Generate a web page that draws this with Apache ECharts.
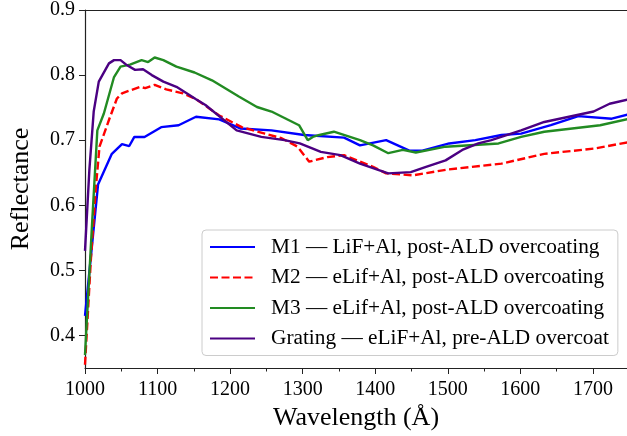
<!DOCTYPE html>
<html>
<head>
<meta charset="utf-8">
<script src="https://cdn.jsdelivr.net/npm/echarts@6/dist/echarts.min.js"></script>
<style>
html,body{margin:0;padding:0;background:#fff;}
#c{width:627px;height:436px;}
</style>
</head>
<body>
<div id="c"></div>
<script>
const xTicks = [1000, 1100, 1200, 1300, 1400, 1500, 1600, 1700];
const xMinorTicks = [1050, 1150, 1250, 1350, 1450, 1550, 1650];
const yTicks = [0.4, 0.5, 0.6, 0.7, 0.8, 0.9];

const seriesNames = [
  'M1 — LiF+Al, post-ALD overcoating',
  'M2 — eLif+Al, post-ALD overcoating',
  'M3 — eLif+Al, post-ALD overcoating',
  'Grating — eLiF+Al, pre-ALD overcoat'
];

const m1X = [1000,1018,1037,1051,1061,1068,1082,1105,1129,1153,1185,1214,1257,1302,1357,1379,1415,1447,1465,1502,1538,1574,1601,1642,1680,1726,1750];
const m1Y = [0.43,0.632,0.679,0.694,0.691,0.705,0.705,0.720,0.723,0.736,0.732,0.718,0.715,0.708,0.704,0.692,0.700,0.684,0.684,0.695,0.700,0.708,0.710,0.723,0.737,0.733,0.740];

const m2X = [1000,1008,1015,1020,1033,1044,1051,1076,1083,1096,1112,1135,1153,1185,1216,1248,1271,1293,1302,1309,1316,1334,1357,1379,1397,1415,1452,1500,1574,1633,1701,1750];
const m2Y = [0.355,0.515,0.628,0.69,0.731,0.764,0.772,0.782,0.780,0.785,0.778,0.772,0.763,0.738,0.720,0.710,0.703,0.690,0.677,0.667,0.669,0.674,0.677,0.667,0.659,0.649,0.646,0.655,0.664,0.679,0.687,0.697];

const m3X = [1000,1010,1017,1026,1040,1049,1062,1078,1087,1096,1108,1126,1151,1175,1212,1237,1257,1295,1307,1314,1323,1343,1379,1397,1418,1438,1456,1497,1570,1601,1633,1710,1750];
const m3Y = [0.37,0.577,0.715,0.741,0.797,0.813,0.816,0.823,0.820,0.827,0.823,0.813,0.804,0.792,0.767,0.751,0.744,0.723,0.700,0.705,0.708,0.713,0.700,0.692,0.680,0.685,0.681,0.690,0.695,0.705,0.713,0.723,0.733];

const grX = [1000,1006,1012,1019,1033,1040,1049,1058,1069,1080,1092,1108,1126,1139,1153,1166,1209,1243,1275,1296,1314,1325,1352,1379,1418,1449,1470,1497,1520,1542,1560,1601,1633,1701,1723,1750];
const grY = [0.53,0.654,0.744,0.790,0.818,0.823,0.823,0.815,0.808,0.809,0.800,0.790,0.782,0.773,0.763,0.754,0.715,0.705,0.700,0.695,0.687,0.682,0.677,0.664,0.649,0.651,0.659,0.669,0.685,0.695,0.700,0.715,0.728,0.744,0.756,0.763];

function pairs(xs, ys){ return xs.map((x,i)=>[x, ys[i]]); }

const FONT = '"Liberation Serif", "DejaVu Serif", serif';
const X_MIN = 1000, X_MAX = 1747, Y_MIN = 0.35, Y_MAX = 0.9;
const spine = '#222';

const chart = echarts.init(document.getElementById('c'), null, {renderer:'canvas'});

function line(name, data, color, dashed){
  return {
    name: name, type: 'line', data: data, symbol: 'none', showSymbol: false,
    xAxisIndex: 0, yAxisIndex: 0, clip: true, animation: false,
    lineStyle: {color: color, width: 2.4, type: dashed ? [8,3.5] : 'solid'},
    itemStyle: {color: color}
  };
}

chart.setOption({
  animation: false,
  backgroundColor: '#fff',
  grid: {left: 77, right: 0, top: 10, bottom: 68, containLabel: false},
  xAxis: [
    {
      type: 'value', position: 'bottom', min: X_MIN, max: X_MAX,
      name: 'Wavelength (Å)', nameLocation: 'middle', nameGap: 36,
      nameTextStyle: {fontFamily: FONT, fontSize: 26, color: '#000'},
      axisLine: {show: true, onZero: false, lineStyle: {color: spine, width: 1.2}},
      axisTick: {show: true, inside: false, length: 6, customValues: xTicks, lineStyle: {color: spine, width: 1}},
      axisLabel: {show: true, customValues: xTicks, margin: 12, fontFamily: FONT, fontSize: 20, color: '#000',
        formatter: v => String(Math.round(v))},
      splitLine: {show: false}
    },
    {
      type: 'value', position: 'bottom', min: X_MIN, max: X_MAX,
      axisLine: {show: false},
      axisTick: {show: true, inside: false, length: 3.5, customValues: xMinorTicks, lineStyle: {color: spine, width: 1}},
      axisLabel: {show: false},
      splitLine: {show: false}
    },
    {
      type: 'value', position: 'top', min: X_MIN, max: X_MAX,
      axisLine: {show: true, onZero: false, lineStyle: {color: spine, width: 1.2}},
      axisTick: {show: false}, axisLabel: {show: false}, splitLine: {show: false}
    }
  ],
  yAxis: [
    {
      type: 'value', min: Y_MIN, max: Y_MAX,
      name: 'Reflectance', nameLocation: 'middle', nameGap: 51, nameRotate: 90,
      nameTextStyle: {fontFamily: FONT, fontSize: 26, color: '#000'},
      axisLine: {show: true, onZero: false, lineStyle: {color: spine, width: 1.2}},
      axisTick: {show: true, inside: false, length: 6, customValues: yTicks, lineStyle: {color: spine, width: 1}},
      axisLabel: {show: true, customValues: yTicks, margin: 10, fontFamily: FONT, fontSize: 20, color: '#000',
        formatter: v => Number(v).toFixed(1)},
      splitLine: {show: false}
    }
  ],
  legend: {
    show: true, orient: 'vertical', left: 202, top: 230,
    data: seriesNames,
    itemWidth: 45, itemHeight: 14, itemGap: 8.5,
    padding: [6, 9, 6, 7],
    backgroundColor: 'rgba(255,255,255,0.9)',
    borderColor: '#cccccc', borderWidth: 1, borderRadius: 4,
    itemStyle: {opacity: 0},
    textStyle: {fontFamily: FONT, fontSize: 21.3, color: '#000', lineHeight: 22, padding: [0,0,0,11]}
  },
  series: [
    line(seriesNames[0], pairs(m1X, m1Y), '#0000ff', false),
    line(seriesNames[1], pairs(m2X, m2Y), '#ff0000', true),
    line(seriesNames[2], pairs(m3X, m3Y), '#228b22', false),
    line(seriesNames[3], pairs(grX, grY), '#4b0082', false)
  ]
});
</script>
</body>
</html>
